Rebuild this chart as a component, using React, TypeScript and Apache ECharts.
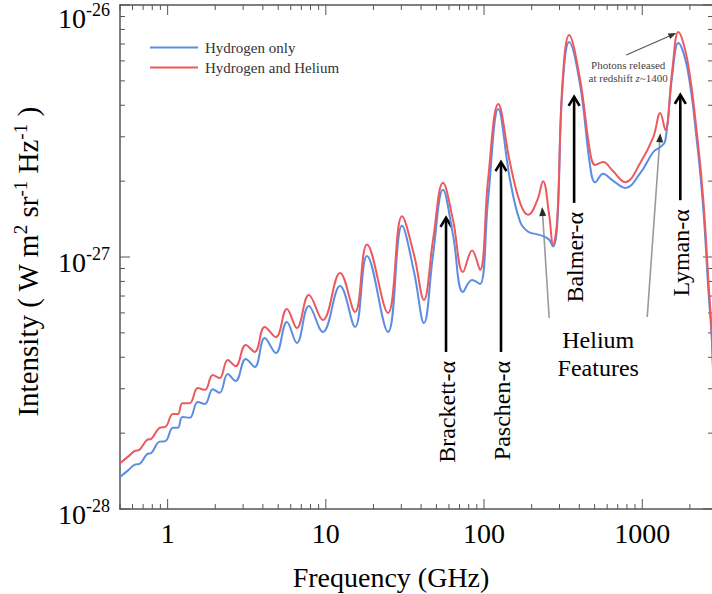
import React, { useEffect, useRef } from 'react';
import * as echarts from 'echarts';

// ---------- data ----------
const frequencyGHz = [
  0.5, 0.56, 0.62, 0.665, 0.74, 0.79, 0.89, 0.97, 1.08, 1.16,
  1.24, 1.38, 1.55, 1.72, 1.93, 2.13, 2.4, 2.69, 3.12, 3.55,
  4.11, 4.83, 5.67, 6.56, 7.81, 9.57, 12.3, 15.3, 18.2, 24.7,
  30.3, 36.1, 41.7, 47.6, 55.0, 63.7, 73.6, 84.0, 94.3, 106,
  123, 146, 169, 190, 217, 236, 258, 273, 290, 312,
  345, 405, 469, 504, 566, 646, 781, 971, 1174, 1300,
  1398, 1548, 1690, 1927, 2229, 2433, 2617, 2773, 3030,
];
// intensities in units of 1e-28 W m^-2 sr^-1 Hz^-1
const hydrogenAndHelium = [
  1.52, 1.61, 1.70, 1.72, 1.88, 1.90, 2.10, 2.12, 2.38, 2.38,
  2.63, 2.63, 3.02, 2.97, 3.40, 3.31, 3.90, 3.69, 4.48, 4.20,
  5.28, 4.81, 6.22, 5.23, 7.07, 5.62, 8.64, 6.05, 11.2, 6.00,
  14.5, 10.2, 6.75, 11.7, 19.7, 14.0, 8.72, 10.6, 8.88, 20.2,
  40.5, 23.6, 16.4, 14.7, 16.8, 20.0, 14.7, 11.2, 14.0, 47.3,
  76.0, 50.4, 25.9, 23.2, 23.8, 22.1, 19.8, 23.6, 29.9, 37.3,
  31.9, 55.2, 78.1, 60.5, 29.9, 16.8, 8.10, 4.40, 0.63,
];
const hydrogenOnly = [
  1.34, 1.42, 1.50, 1.51, 1.65, 1.67, 1.85, 1.86, 2.10, 2.10,
  2.32, 2.30, 2.66, 2.61, 2.99, 2.89, 3.43, 3.22, 3.94, 3.66,
  4.77, 4.16, 5.52, 4.56, 6.39, 5.04, 7.67, 5.28, 10.1, 5.04,
  13.3, 8.72, 5.47, 10.2, 18.5, 12.2, 7.26, 8.10, 7.81, 16.8,
  38.7, 20.2, 13.8, 12.6, 12.3, 12.1, 11.7, 11.0, 13.4, 45.2,
  71.3, 48.1, 22.8, 19.8, 21.4, 20.2, 18.8, 21.5, 26.1, 27.3,
  28.9, 52.8, 70.7, 56.2, 27.8, 15.4, 7.40, 4.28, 0.63,
];
const UNIT_EXPONENT = -28; // values above are in units of 10^-28

const xMajorTicks = [1, 10, 100, 1000];
const xMinorTicks = [
  0.5, 0.6, 0.7, 0.8, 0.9,
  2, 3, 4, 5, 6, 7, 8, 9,
  20, 30, 40, 50, 60, 70, 80, 90,
  200, 300, 400, 500, 600, 700, 800, 900,
  2000,
];
// y ticks in units of 1e-28
const yMajorTicks = [1, 10, 100];
const yMinorTicks = [2, 3, 4, 5, 6, 7, 8, 9, 20, 30, 40, 50, 60, 70, 80, 90];

// annotations (data coordinates, intensity in units of 1e-28)
const lineLabels = ['Brackett-α', 'Paschen-α', 'Balmer-α', 'Lyman-α'];
const lineFreq = [57.5, 128, 371, 1740];
const lineArrowHead = [14.3, 23.8, 43.2, 44.0];
const lineArrowTail = [4.2, 4.2, 16.4, 16.8];

const heliumArrowFrom = [[258, 5.73], [1075, 5.78]];
const heliumArrowTo = [[233, 15.8], [1300, 31.0]];
const heliumLabelAt = [527, 4.12];

const photonsArrowFrom = [792, 63.3];
const photonsArrowTo = [1641, 77.4];
const photonsLabelAt = [815, 54.4];

const X_MIN = 0.5;
const X_MAX = 2800;
const Y_MIN = 1;
const Y_MAX = 100;

const FONT = '"Liberation Serif", "Times New Roman", serif';
const AXIS_COLOR = '#555';
const BLUE = '#5b8de2';
const RED = '#ec5a5e';

export default function App() {
  const ref = useRef<HTMLDivElement>(null);

  useEffect(() => {
    const el = ref.current;
    if (!el) return;
    const chart = echarts.init(el, null, { renderer: 'svg' });

    const blueData = frequencyGHz.map((f, i) => [f, hydrogenOnly[i]]);
    const redData = frequencyGHz.map((f, i) => [f, hydrogenAndHelium[i]]);

    const lineOnly = { show: true, onZero: false, lineStyle: { color: AXIS_COLOR, width: 1.5 } };

    chart.setOption({
      animation: false,
      backgroundColor: '#fff',
      grid: { left: 120, top: 5, right: -1, bottom: 85, containLabel: false, outerBoundsMode: 'none' },
      legend: {
        orient: 'vertical',
        left: 145,
        top: 35,
        itemGap: 5,
        icon: 'rect',
        itemWidth: 48,
        itemHeight: 2,
        data: ['Hydrogen only', 'Hydrogen and Helium'],
        textStyle: { fontSize: 15, fontFamily: FONT, color: '#333', padding: [0, 0, 0, 2] },
      },
      xAxis: [
        {
          type: 'log',
          logBase: 10,
          min: X_MIN,
          max: X_MAX,
          position: 'bottom',
          axisLine: lineOnly,
          axisTick: { show: false },
          axisLabel: {
            customValues: xMajorTicks,
            margin: 10,
            fontSize: 28,
            fontFamily: FONT,
            color: '#000',
            formatter: (v: number) => String(Math.round(v)),
          },
          splitLine: { show: false },
        },
        {
          type: 'log',
          logBase: 10,
          min: X_MIN,
          max: X_MAX,
          position: 'top',
          axisLine: lineOnly,
          axisTick: { show: false },
          axisLabel: { show: false },
          splitLine: { show: false },
        },
      ],
      yAxis: [
        {
          type: 'log',
          logBase: 10,
          min: Y_MIN,
          max: Y_MAX,
          position: 'left',
          axisLine: lineOnly,
          axisTick: { show: false },
          axisLabel: {
            customValues: yMajorTicks,
            margin: 10,
            padding: [10, 0, 0, 0],
            formatter: (v: number) => {
              const e = Math.round(Math.log10(v));
              const txt = `{b|10}{s|${e + UNIT_EXPONENT}}`;
              // the top label sits a little lower so that it stays inside the picture
              return v >= Y_MAX ? `{g| }\n${txt}` : txt;
            },
            rich: {
              g: { fontSize: 2, lineHeight: 16 },
              b: { fontSize: 28, fontFamily: FONT, color: '#000', lineHeight: 34 },
              s: { fontSize: 18, fontFamily: FONT, color: '#000', lineHeight: 18, verticalAlign: 'top' },
            },
          },
          splitLine: { show: false },
        },
        {
          type: 'log',
          logBase: 10,
          min: Y_MIN,
          max: Y_MAX,
          position: 'right',
          axisLine: lineOnly,
          axisTick: { show: false },
          axisLabel: { show: false },
          splitLine: { show: false },
        },
      ],
      series: [
        {
          name: 'Hydrogen only',
          type: 'line',
          xAxisIndex: 0,
          yAxisIndex: 0,
          data: blueData,
          smooth: 0.4,
          symbol: 'none',
          showSymbol: false,
          color: BLUE,
          lineStyle: { color: BLUE, width: 2 },
          clip: true,
        },
        {
          name: 'Hydrogen and Helium',
          type: 'line',
          xAxisIndex: 0,
          yAxisIndex: 0,
          data: redData,
          smooth: 0.4,
          symbol: 'none',
          showSymbol: false,
          color: RED,
          lineStyle: { color: RED, width: 2 },
          clip: true,
        },
      ],
    });

    const toPx = (x: number, y: number) =>
      chart.convertToPixel({ xAxisIndex: 0, yAxisIndex: 0 }, [x, y]) as number[];

    const graphics: any[] = [];

    // ticks (inside, on all four sides)
    const corner0 = toPx(X_MIN, Y_MIN);
    const corner1 = toPx(X_MAX, Y_MAX);
    const left = corner0[0];
    const bottom = corner0[1];
    const right = corner1[0];
    const top = corner1[1];
    const tickStyle = { stroke: AXIS_COLOR, lineWidth: 1 };
    const addXTicks = (vals: number[], len: number) => {
      vals.forEach((v) => {
        const p = toPx(v, Y_MIN)[0];
        graphics.push({ type: 'line', shape: { x1: p, y1: bottom, x2: p, y2: bottom - len }, style: tickStyle });
        graphics.push({ type: 'line', shape: { x1: p, y1: top, x2: p, y2: top + len }, style: tickStyle });
      });
    };
    const addYTicks = (vals: number[], len: number) => {
      vals.forEach((v) => {
        const p = toPx(X_MIN, v)[1];
        graphics.push({ type: 'line', shape: { x1: left, y1: p, x2: left + len, y2: p }, style: tickStyle });
        graphics.push({ type: 'line', shape: { x1: right, y1: p, x2: right - len, y2: p }, style: tickStyle });
      });
    };
    addXTicks(xMajorTicks, 10);
    addXTicks(xMinorTicks, 5);
    addYTicks(yMajorTicks, 10);
    addYTicks(yMinorTicks, 5);

    // axis titles
    graphics.push({
      type: 'text',
      x: 391,
      y: 577,
      style: {
        text: 'Frequency (GHz)',
        font: `28px ${FONT}`,
        fill: '#000',
        align: 'center',
        verticalAlign: 'middle',
        textAlign: 'center',
        textVerticalAlign: 'middle',
      },
    });
    graphics.push({
      type: 'text',
      x: 28,
      y: 262,
      rotation: Math.PI / 2,
      style: {
        text: '{t|Intensity ( W m}{s|2}{t| sr}{s|-1}{t| Hz}{s|-1}{t| )}',
        rich: {
          t: { fontSize: 29, fontFamily: FONT, fill: '#000', lineHeight: 35 },
          s: { fontSize: 19, fontFamily: FONT, fill: '#000', lineHeight: 19, verticalAlign: 'top' },
        },
        align: 'center',
        verticalAlign: 'middle',
        textAlign: 'center',
        textVerticalAlign: 'middle',
      },
    });

    // spectral line arrows and labels
    lineLabels.forEach((label, i) => {
      const head = toPx(lineFreq[i], lineArrowHead[i]);
      const tail = toPx(lineFreq[i], lineArrowTail[i]);
      const x = head[0];
      graphics.push({
        type: 'line',
        shape: { x1: x, y1: tail[1], x2: x, y2: head[1] + 1 },
        style: { stroke: '#000', lineWidth: 2.6 },
      });
      graphics.push({
        type: 'polyline',
        shape: { points: [[x - 5.5, head[1] + 9], [x, head[1]], [x + 5.5, head[1] + 9]] },
        style: { stroke: '#000', lineWidth: 2.6, fill: 'none' },
      });
      graphics.push({
        type: 'text',
        x: x + 1,
        y: tail[1] + 9,
        rotation: Math.PI / 2,
        style: {
          text: label,
          font: `24px ${FONT}`,
          fill: '#000',
          align: 'right',
          verticalAlign: 'middle',
          textAlign: 'right',
          textVerticalAlign: 'middle',
        },
      });
    });

    const filledArrow = (from: number[], to: number[], stroke: string, width: number, headFill: string, hl: number, hw: number) => {
      const dx = to[0] - from[0];
      const dy = to[1] - from[1];
      const len = Math.sqrt(dx * dx + dy * dy);
      const ux = dx / len;
      const uy = dy / len;
      const bx = to[0] - ux * hl;
      const by = to[1] - uy * hl;
      graphics.push({
        type: 'line',
        shape: { x1: from[0], y1: from[1], x2: bx, y2: by },
        style: { stroke, lineWidth: width },
      });
      graphics.push({
        type: 'polygon',
        shape: { points: [[to[0], to[1]], [bx - uy * hw, by + ux * hw], [bx + uy * hw, by - ux * hw]] },
        style: { fill: headFill },
      });
    };

    // helium features
    heliumArrowFrom.forEach((f, i) => {
      const from = toPx(f[0], f[1]);
      const to = toPx(heliumArrowTo[i][0], heliumArrowTo[i][1]);
      filledArrow(from, to, '#9a9a9a', 1.6, '#1f2f22', 9, 3.5);
    });
    const hl = toPx(heliumLabelAt[0], heliumLabelAt[1]);
    graphics.push({
      type: 'text',
      x: hl[0],
      y: hl[1],
      style: {
        text: 'Helium\nFeatures',
        font: `24px ${FONT}`,
        lineHeight: 28,
        fill: '#000',
        align: 'center',
        verticalAlign: 'middle',
        textAlign: 'center',
        textVerticalAlign: 'middle',
      },
    });

    // photons annotation
    filledArrow(toPx(photonsArrowFrom[0], photonsArrowFrom[1]), toPx(photonsArrowTo[0], photonsArrowTo[1]), '#555', 1.1, '#333', 8, 3);
    const pl = toPx(photonsLabelAt[0], photonsLabelAt[1]);
    graphics.push({
      type: 'text',
      x: pl[0],
      y: pl[1],
      style: {
        text: '{n|Photons released}\n{n|at redshift }{i|z}{n|~1400}',
        rich: {
          n: { fontSize: 11, fontFamily: FONT, fill: '#444', lineHeight: 13 },
          i: { fontSize: 11, fontFamily: FONT, fontStyle: 'italic', fill: '#444', lineHeight: 13 },
        },
        align: 'center',
        verticalAlign: 'middle',
        textAlign: 'center',
        textVerticalAlign: 'middle',
      },
    });

    chart.setOption({ graphic: { elements: graphics } });

    return () => chart.dispose();
  }, []);

  return (
    <div
      ref={ref}
      style={{ position: 'fixed', left: 0, top: 0, width: 712, height: 594, background: '#fff' }}
    />
  );
}
